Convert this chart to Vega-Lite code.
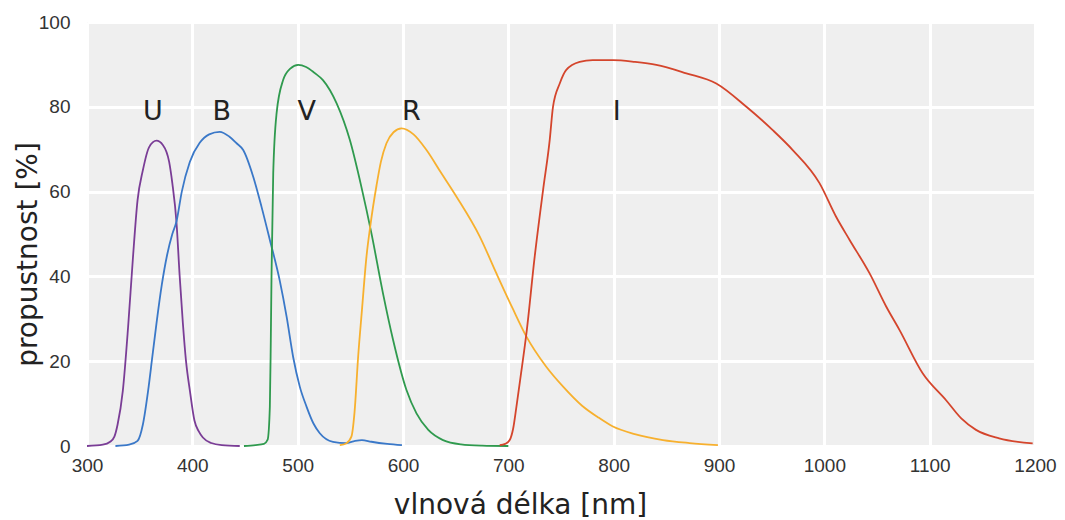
{
  "$schema": "https://vega.github.io/schema/vega-lite/v6.json",
  "width": 948,
  "height": 424,
  "autosize": {"type": "none"},
  "padding": {"left": 87, "top": 22, "right": 30, "bottom": 74},
  "background": "white",
  "config": {
    "view": {"fill": "#efefef", "stroke": null},
    "axis": {"grid": true, "gridColor": "#ffffff", "gridWidth": 3, "gridOpacity": 1, "ticks": false, "domain": false,
      "labelFont": "Liberation Sans", "labelFontSize": 19, "labelColor": "#333333",
      "titleFont": "DejaVu Sans", "titleFontSize": 28, "titleFontWeight": "normal", "titleColor": "#222222"}
  },
  "datasets": {
    "curves": [
      {"band": "U", "nm": 300, "t": 0}, {"band": "U", "nm": 315, "t": 0.3}, {"band": "U", "nm": 322, "t": 1}, {"band": "U", "nm": 326, "t": 2.2},
      {"band": "U", "nm": 329, "t": 5}, {"band": "U", "nm": 334, "t": 13}, {"band": "U", "nm": 339, "t": 28}, {"band": "U", "nm": 343.5, "t": 44},
      {"band": "U", "nm": 348, "t": 58}, {"band": "U", "nm": 353, "t": 65}, {"band": "U", "nm": 359, "t": 70.5}, {"band": "U", "nm": 366, "t": 72},
      {"band": "U", "nm": 372, "t": 71}, {"band": "U", "nm": 378, "t": 67}, {"band": "U", "nm": 381, "t": 62}, {"band": "U", "nm": 385, "t": 52.6},
      {"band": "U", "nm": 388, "t": 40}, {"band": "U", "nm": 391, "t": 29}, {"band": "U", "nm": 394, "t": 20}, {"band": "U", "nm": 397.7, "t": 13},
      {"band": "U", "nm": 402, "t": 6}, {"band": "U", "nm": 406, "t": 3.5}, {"band": "U", "nm": 410, "t": 2}, {"band": "U", "nm": 418, "t": 0.7},
      {"band": "U", "nm": 428, "t": 0.2}, {"band": "U", "nm": 445, "t": 0},

      {"band": "B", "nm": 327, "t": 0}, {"band": "B", "nm": 340, "t": 0.3}, {"band": "B", "nm": 348, "t": 1.2}, {"band": "B", "nm": 353, "t": 5},
      {"band": "B", "nm": 358, "t": 13}, {"band": "B", "nm": 362, "t": 21}, {"band": "B", "nm": 366, "t": 29}, {"band": "B", "nm": 371, "t": 38},
      {"band": "B", "nm": 376, "t": 45}, {"band": "B", "nm": 381, "t": 50}, {"band": "B", "nm": 385, "t": 53}, {"band": "B", "nm": 390, "t": 60},
      {"band": "B", "nm": 397.6, "t": 67}, {"band": "B", "nm": 407, "t": 71.5}, {"band": "B", "nm": 416, "t": 73.5}, {"band": "B", "nm": 426, "t": 74.1},
      {"band": "B", "nm": 435, "t": 73}, {"band": "B", "nm": 442, "t": 71.4}, {"band": "B", "nm": 448.3, "t": 69.8}, {"band": "B", "nm": 457.8, "t": 63.5},
      {"band": "B", "nm": 465.7, "t": 56.4}, {"band": "B", "nm": 473.6, "t": 48.6}, {"band": "B", "nm": 483, "t": 39}, {"band": "B", "nm": 489.5, "t": 30.5},
      {"band": "B", "nm": 495.7, "t": 21}, {"band": "B", "nm": 502, "t": 14}, {"band": "B", "nm": 508.4, "t": 9.3}, {"band": "B", "nm": 515, "t": 5.3},
      {"band": "B", "nm": 521, "t": 3}, {"band": "B", "nm": 533.5, "t": 1}, {"band": "B", "nm": 546, "t": 0.7}, {"band": "B", "nm": 553, "t": 1.1},
      {"band": "B", "nm": 561, "t": 1.4}, {"band": "B", "nm": 570, "t": 1}, {"band": "B", "nm": 585, "t": 0.5}, {"band": "B", "nm": 599, "t": 0.2},

      {"band": "V", "nm": 449, "t": 0}, {"band": "V", "nm": 460, "t": 0.2}, {"band": "V", "nm": 468, "t": 0.5}, {"band": "V", "nm": 471.5, "t": 1.5},
      {"band": "V", "nm": 473.6, "t": 9.3}, {"band": "V", "nm": 474.5, "t": 25}, {"band": "V", "nm": 475.2, "t": 40.7}, {"band": "V", "nm": 476.8, "t": 64.3},
      {"band": "V", "nm": 480, "t": 78.5}, {"band": "V", "nm": 486.2, "t": 86.3}, {"band": "V", "nm": 493, "t": 89}, {"band": "V", "nm": 500.5, "t": 89.9},
      {"band": "V", "nm": 508, "t": 89.4}, {"band": "V", "nm": 516, "t": 88}, {"band": "V", "nm": 524, "t": 86.3}, {"band": "V", "nm": 537, "t": 80.8},
      {"band": "V", "nm": 549.5, "t": 72.2}, {"band": "V", "nm": 560.6, "t": 61}, {"band": "V", "nm": 570, "t": 50.2}, {"band": "V", "nm": 581, "t": 36},
      {"band": "V", "nm": 590.6, "t": 25}, {"band": "V", "nm": 603.3, "t": 13.2}, {"band": "V", "nm": 612.8, "t": 7.7}, {"band": "V", "nm": 624, "t": 3.8},
      {"band": "V", "nm": 638, "t": 1.4}, {"band": "V", "nm": 655, "t": 0.4}, {"band": "V", "nm": 675, "t": 0.1}, {"band": "V", "nm": 700, "t": 0},

      {"band": "R", "nm": 540, "t": 0.2}, {"band": "R", "nm": 546, "t": 0.6}, {"band": "R", "nm": 551, "t": 2.2}, {"band": "R", "nm": 554, "t": 8},
      {"band": "R", "nm": 557.4, "t": 21}, {"band": "R", "nm": 561, "t": 32}, {"band": "R", "nm": 565.3, "t": 44.6}, {"band": "R", "nm": 569, "t": 52},
      {"band": "R", "nm": 574.9, "t": 61.5}, {"band": "R", "nm": 579, "t": 67}, {"band": "R", "nm": 584.3, "t": 71.4}, {"band": "R", "nm": 591, "t": 74},
      {"band": "R", "nm": 598.6, "t": 74.9}, {"band": "R", "nm": 610, "t": 73.5}, {"band": "R", "nm": 622.3, "t": 69.8}, {"band": "R", "nm": 636, "t": 64.5},
      {"band": "R", "nm": 650.8, "t": 58.8}, {"band": "R", "nm": 672.9, "t": 49.4}, {"band": "R", "nm": 688.7, "t": 40.7}, {"band": "R", "nm": 704, "t": 32.5},
      {"band": "R", "nm": 717.2, "t": 25.8}, {"band": "R", "nm": 736, "t": 18.7}, {"band": "R", "nm": 752, "t": 14}, {"band": "R", "nm": 770, "t": 9.5},
      {"band": "R", "nm": 785, "t": 6.8}, {"band": "R", "nm": 799.3, "t": 4.6}, {"band": "R", "nm": 820, "t": 2.8}, {"band": "R", "nm": 846.8, "t": 1.4},
      {"band": "R", "nm": 872, "t": 0.7}, {"band": "R", "nm": 899, "t": 0.2},

      {"band": "I", "nm": 691.8, "t": 0.2}, {"band": "I", "nm": 697, "t": 0.5}, {"band": "I", "nm": 701.3, "t": 1.4}, {"band": "I", "nm": 704.5, "t": 4},
      {"band": "I", "nm": 707.7, "t": 9.3}, {"band": "I", "nm": 712, "t": 17}, {"band": "I", "nm": 717.2, "t": 26.6}, {"band": "I", "nm": 725, "t": 44.6},
      {"band": "I", "nm": 733, "t": 60.4}, {"band": "I", "nm": 739.3, "t": 72.2}, {"band": "I", "nm": 742.4, "t": 80}, {"band": "I", "nm": 748.8, "t": 85.5},
      {"band": "I", "nm": 755, "t": 88.7}, {"band": "I", "nm": 767.7, "t": 90.6}, {"band": "I", "nm": 780, "t": 91}, {"band": "I", "nm": 799.3, "t": 91},
      {"band": "I", "nm": 820, "t": 90.6}, {"band": "I", "nm": 840.5, "t": 89.9}, {"band": "I", "nm": 869, "t": 87.9}, {"band": "I", "nm": 897.4, "t": 85.5},
      {"band": "I", "nm": 926, "t": 80}, {"band": "I", "nm": 951, "t": 74.5}, {"band": "I", "nm": 970, "t": 69.8}, {"band": "I", "nm": 995.4, "t": 62},
      {"band": "I", "nm": 1011.3, "t": 54}, {"band": "I", "nm": 1024, "t": 48.6}, {"band": "I", "nm": 1043, "t": 40.7}, {"band": "I", "nm": 1058.7, "t": 32.9},
      {"band": "I", "nm": 1071.3, "t": 27.4}, {"band": "I", "nm": 1093.5, "t": 17.1}, {"band": "I", "nm": 1115.6, "t": 10.8}, {"band": "I", "nm": 1130, "t": 6.5},
      {"band": "I", "nm": 1144, "t": 3.8}, {"band": "I", "nm": 1166, "t": 1.8}, {"band": "I", "nm": 1197.8, "t": 0.6}
    ],
    "labels": [
      {"band": "U", "nm": 362.6, "t": 77},
      {"band": "B", "nm": 428, "t": 77},
      {"band": "V", "nm": 508.7, "t": 77},
      {"band": "R", "nm": 608, "t": 77},
      {"band": "I", "nm": 803, "t": 77}
    ]
  },
  "layer": [
    {
      "data": {"name": "curves"},
      "mark": {"type": "line", "interpolate": "monotone", "strokeWidth": 1.8},
      "encoding": {
        "x": {"field": "nm", "type": "quantitative",
          "scale": {"domain": [300, 1200], "nice": false, "zero": false},
          "axis": {"values": [300, 400, 500, 600, 700, 800, 900, 1000, 1100, 1200], "format": "d", "labelPadding": 10, "labelFlush": false,
            "title": "vlnová délka [nm]", "titleX": 433, "titleY": 67, "titleAlign": "center", "titleBaseline": "alphabetic", "titleAnchor": null}},
        "y": {"field": "t", "type": "quantitative",
          "scale": {"domain": [0, 100], "nice": false},
          "axis": {"values": [0, 20, 40, 60, 80, 100], "format": "d", "labelPadding": 17, "labelFlush": false,
            "title": "propustnost [%]", "titleX": -51, "titleY": 232, "titleAngle": 270, "titleAlign": "center", "titleBaseline": "alphabetic", "titleAnchor": null}},
        "color": {"field": "band", "type": "nominal",
          "scale": {"domain": ["U", "B", "V", "R", "I"], "range": ["#7a3d96", "#3a78c8", "#2f9a4e", "#f7b02e", "#d4452c"]},
          "legend": null},
        "detail": {"field": "band"}
      }
    },
    {
      "data": {"name": "labels"},
      "mark": {"type": "text", "font": "DejaVu Sans", "fontSize": 27, "color": "#222222", "align": "center", "baseline": "alphabetic"},
      "encoding": {
        "x": {"field": "nm", "type": "quantitative"},
        "y": {"field": "t", "type": "quantitative"},
        "text": {"field": "band"}
      }
    }
  ]
}
